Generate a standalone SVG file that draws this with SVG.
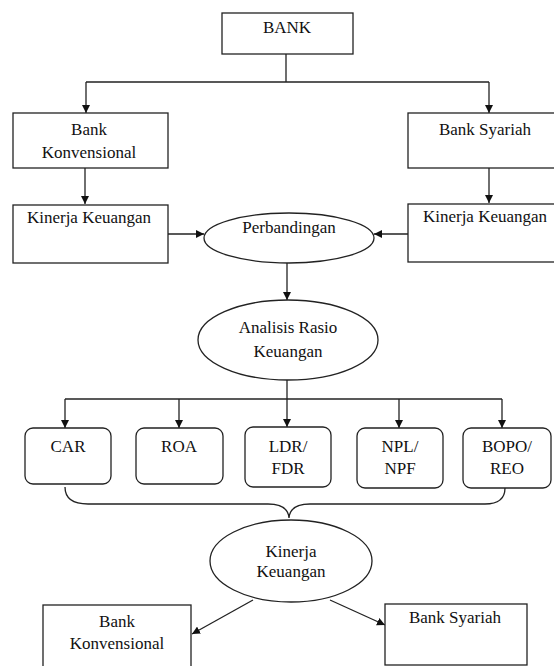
<svg xmlns="http://www.w3.org/2000/svg" width="554" height="666" viewBox="0 0 554 666">
<style>
.b{fill:#fff;stroke:#222;stroke-width:1.3}
.c{fill:none;stroke:#222;stroke-width:1.3}
text{font-family:"Liberation Serif","Times New Roman",serif;font-size:17px;fill:#111;text-anchor:middle}
</style>
<defs>
<marker id="a" viewBox="0 0 10 10" refX="10" refY="5" markerWidth="8" markerHeight="8" markerUnits="userSpaceOnUse" orient="auto">
<path d="M0,0L10,5L0,10z" fill="#111"/>
</marker>
</defs>
<rect width="554" height="666" fill="#fff"/>
<g id="connectors">
<path class="c" d="M286,54V82M86,82H489" />
<path class="c" d="M86,82V113" marker-end="url(#a)"/>
<path class="c" d="M489,82V113" marker-end="url(#a)"/>
<path class="c" d="M85,168V204" marker-end="url(#a)"/>
<path class="c" d="M489,168V203" marker-end="url(#a)"/>
<path class="c" d="M168,234H204" marker-end="url(#a)"/>
<path class="c" d="M408,234H374" marker-end="url(#a)"/>
<path class="c" d="M287,263V300" marker-end="url(#a)"/>
<path class="c" d="M287,380V427" marker-end="url(#a)"/>
<path class="c" d="M65,399H502"/>
<path class="c" d="M65,399V428" marker-end="url(#a)"/>
<path class="c" d="M179,399V428" marker-end="url(#a)"/>
<path class="c" d="M399,399V428" marker-end="url(#a)"/>
<path class="c" d="M502,399V428" marker-end="url(#a)"/>
<path class="c" d="M65,487Q65,504 88,504L268,504Q288,504 289,518Q290,504 310,504L485,504Q505,504 505,488"/>
<path class="c" d="M253,600L192,634" marker-end="url(#a)"/>
<path class="c" d="M330,600L385,625" marker-end="url(#a)"/>
</g>
<g id="bank"><rect class="b" x="222" y="13" width="131" height="41"/><text x="287" y="33">BANK</text></g>
<g id="bank-konvensional"><rect class="b" x="13" y="113" width="155" height="55"/><text x="89" y="135">Bank</text><text x="89" y="158">Konvensional</text></g>
<g id="bank-syariah"><rect class="b" x="408" y="113" width="150" height="55"/><text x="485" y="135">Bank Syariah</text></g>
<g id="kinerja-konv"><rect class="b" x="13" y="205" width="155" height="58"/><text x="89" y="223">Kinerja Keuangan</text></g>
<g id="kinerja-syariah"><rect class="b" x="408" y="204" width="150" height="58"/><text x="485" y="222">Kinerja Keuangan</text></g>
<g id="perbandingan"><ellipse class="b" cx="289" cy="238" rx="85" ry="25"/><text x="289" y="233">Perbandingan</text></g>
<g id="analisis"><ellipse class="b" cx="288" cy="340" rx="90" ry="40"/><text x="288" y="333">Analisis Rasio</text><text x="288" y="357">Keuangan</text></g>
<g id="car"><rect class="b" x="25" y="428" width="86" height="56" rx="8"/><text x="68" y="452">CAR</text></g>
<g id="roa"><rect class="b" x="136" y="428" width="87" height="56" rx="8"/><text x="179" y="452">ROA</text></g>
<g id="ldr"><rect class="b" x="245" y="427" width="86" height="60" rx="8"/><text x="288" y="452">LDR/</text><text x="288" y="474">FDR</text></g>
<g id="npl"><rect class="b" x="357" y="428" width="86" height="60" rx="8"/><text x="400" y="452">NPL/</text><text x="400" y="474">NPF</text></g>
<g id="bopo"><rect class="b" x="463" y="428" width="88" height="60" rx="8"/><text x="507" y="452">BOPO/</text><text x="507" y="474">REO</text></g>
<g id="kinerja"><ellipse class="b" cx="291" cy="561" rx="81" ry="41"/><text x="291" y="557">Kinerja</text><text x="291" y="577">Keuangan</text></g>
<g id="bank-konv-2"><rect class="b" x="43" y="605" width="148" height="70"/><text x="117" y="627">Bank</text><text x="117" y="649">Konvensional</text></g>
<g id="bank-syariah-2"><rect class="b" x="385" y="604" width="142" height="61"/><text x="455" y="623">Bank Syariah</text></g>
</svg>
